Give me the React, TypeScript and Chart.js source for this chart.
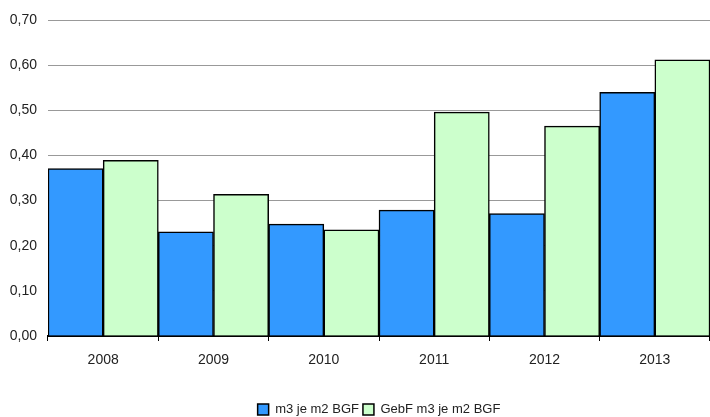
import React, { useEffect, useRef } from "react";
import { Chart, registerables } from "chart.js";

Chart.register(...registerables);

const years = ["2008", "2009", "2010", "2011", "2012", "2013"];
const seriesA = [0.371, 0.231, 0.248, 0.279, 0.271, 0.54];
const seriesB = [0.389, 0.314, 0.235, 0.496, 0.465, 0.612];
const labelA = "m3 je m2 BGF";
const labelB = "GebF m3 je m2 BGF";

export default function App() {
  const ref = useRef<HTMLCanvasElement | null>(null);
  useEffect(() => {
    if (!ref.current) return;
    const font = { family: "'Liberation Sans', Arial, sans-serif", size: 14 };
    const legendFont = { family: "'Liberation Sans', Arial, sans-serif", size: 13 };
    const chart = new Chart(ref.current, {
      type: "bar",
      data: {
        labels: years,
        datasets: [
          {
            label: labelA,
            data: seriesA,
            backgroundColor: "#3399FF",
            borderColor: "#000000",
            borderWidth: 1.5,
            categoryPercentage: 1,
            barPercentage: 1,
          },
          {
            label: labelB,
            data: seriesB,
            backgroundColor: "#CCFFCC",
            borderColor: "#000000",
            borderWidth: 1.5,
            categoryPercentage: 1,
            barPercentage: 1,
          },
        ],
      },
      options: {
        animation: false,
        responsive: true,
        maintainAspectRatio: false,
        layout: { padding: { top: 20, right: 0, bottom: 0, left: 0 } },
        plugins: {
          tooltip: { enabled: false },
          legend: {
            position: "bottom",
            fullSize: false,
            labels: {
              font: legendFont,
              color: "#222",
              boxWidth: 11,
              boxHeight: 11,
              padding: 4,
            },
          },
        },
        scales: {
          x: {
            offset: true,
            grid: {
              display: true,
              offset: true,
              drawOnChartArea: false,
              drawTicks: true,
              tickLength: 5,
              color: "#000",
            },
            border: { display: true, color: "#000", width: 2 },
            ticks: { font, color: "#222", padding: 11 },
            afterFit: (s: any) => {
              s.height = 63;
            },
          },
          y: {
            min: 0,
            max: 0.7,
            grid: { color: "#999", lineWidth: 1, drawTicks: false },
            border: { display: false },
            ticks: {
              stepSize: 0.1,
              font,
              color: "#222",
              padding: 11,
              callback: (v: any) => Number(v).toFixed(2).replace(".", ","),
            },
            afterFit: (s: any) => {
              s.width = 48;
            },
          },
        },
      },
    });
    return () => chart.destroy();
  }, []);
  return (
    <div style={{ position: "absolute", left: 0, top: 0, width: 710, height: 417, overflow: "hidden", background: "#fff" }}>
      <div style={{ position: "relative", width: 710, height: 426 }}>
        <canvas ref={ref} />
      </div>
    </div>
  );
}
